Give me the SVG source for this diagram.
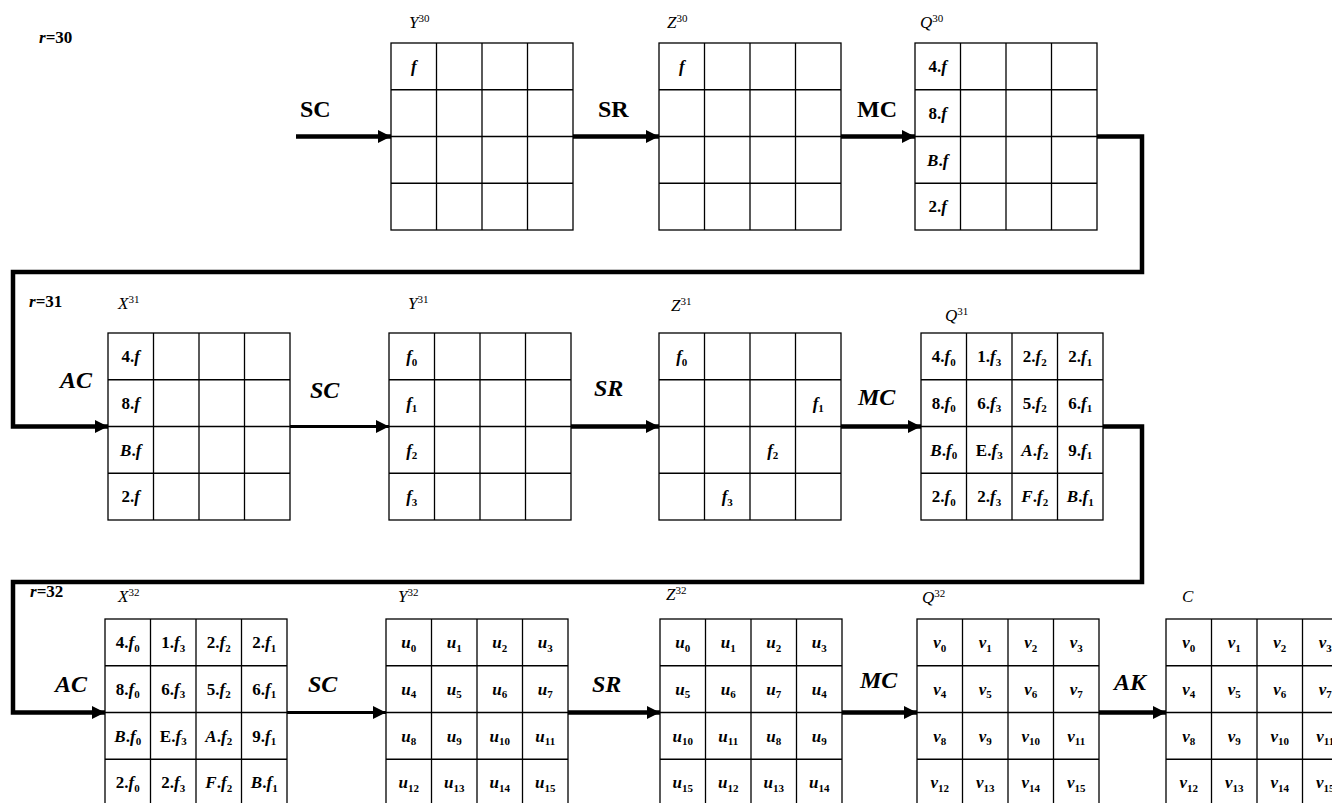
<svg xmlns="http://www.w3.org/2000/svg" width="1332" height="803" viewBox="0 0 1332 803">
<defs>
<style>
.gr rect,.gr line{fill:none;stroke:#000;stroke-width:1.3}
.c{font-family:"Liberation Serif",serif;font-size:17px;font-weight:bold;text-anchor:middle;fill:#000}
.i{font-style:italic}
.s{font-size:11px}
.lb{font-family:"Liberation Serif",serif;font-size:24px;font-weight:bold;fill:#000}
.nm{font-family:"Liberation Serif",serif;font-size:17px;font-style:italic;fill:#000}
.sup{font-size:11px;font-style:normal}
.rr{font-family:"Liberation Serif",serif;font-size:17px;font-weight:bold;fill:#000}
.cn{fill:none;stroke:#000;stroke-width:4.5}
.cn2{fill:none;stroke:#000;stroke-width:3}
</style>
<marker id="ah" viewBox="0 0 10 10" refX="10" refY="5" markerUnits="userSpaceOnUse" markerWidth="15" markerHeight="13" orient="auto">
<path d="M0,0 L10,5 L0,10 Z" fill="#000"/>
</marker>
<g id="grid" class="gr">
<rect x="0" y="0" width="182" height="187"/>
<line x1="45.5" y1="0" x2="45.5" y2="187"/>
<line x1="91" y1="0" x2="91" y2="187"/>
<line x1="136.5" y1="0" x2="136.5" y2="187"/>
<line x1="0" y1="46.75" x2="182" y2="46.75"/>
<line x1="0" y1="93.5" x2="182" y2="93.5"/>
<line x1="0" y1="140.25" x2="182" y2="140.25"/>
</g>
</defs>
<rect width="1332" height="803" fill="#fff"/>

<g id="labels">
<text class="rr" x="39" y="43"><tspan class="i">r</tspan>=30</text>
<text class="rr" x="29" y="307"><tspan class="i">r</tspan>=31</text>
<text class="rr" x="30" y="597"><tspan class="i">r</tspan>=32</text>
<text class="lb" x="300" y="117">SC</text>
<text class="lb" x="598" y="117">SR</text>
<text class="lb" x="857" y="117">MC</text>
<text class="lb i" x="60" y="388">AC</text>
<text class="lb i" x="310" y="398">SC</text>
<text class="lb i" x="594" y="396">SR</text>
<text class="lb i" x="858" y="405">MC</text>
<text class="lb i" x="55" y="692">AC</text>
<text class="lb i" x="308" y="692">SC</text>
<text class="lb i" x="592" y="692">SR</text>
<text class="lb i" x="860" y="688">MC</text>
<text class="lb i" x="1114" y="690">AK</text>
</g>

<g id="connectors">
<line class="cn" x1="296" y1="136.5" x2="391" y2="136.5" marker-end="url(#ah)"/>
<line class="cn" x1="573" y1="136.5" x2="659" y2="136.5" marker-end="url(#ah)"/>
<line class="cn" x1="841" y1="136.5" x2="915" y2="136.5" marker-end="url(#ah)"/>
<polyline class="cn" points="1097,136.5 1142,136.5 1142,272 13,272 13,426.5 108,426.5" marker-end="url(#ah)"/>
<line class="cn2" x1="290" y1="426.5" x2="389" y2="426.5" marker-end="url(#ah)"/>
<line class="cn" x1="571" y1="426.5" x2="659" y2="426.5" marker-end="url(#ah)"/>
<line class="cn" x1="841" y1="426.5" x2="921" y2="426.5" marker-end="url(#ah)"/>
<polyline class="cn" points="1103,426.5 1142,426.5 1142,582 13,582 13,712.5 105,712.5" marker-end="url(#ah)"/>
<line class="cn2" x1="287" y1="712.5" x2="386" y2="712.5" marker-end="url(#ah)"/>
<line class="cn" x1="568" y1="712.5" x2="660" y2="712.5" marker-end="url(#ah)"/>
<line class="cn" x1="842" y1="712.5" x2="917" y2="712.5" marker-end="url(#ah)"/>
<line class="cn" x1="1099" y1="712.5" x2="1166" y2="712.5" marker-end="url(#ah)"/>
</g>

<g id="Y30">
<text class="nm" x="409" y="28">Y<tspan class="sup" dy="-6">30</tspan></text>
<g transform="translate(391,43)"><use href="#grid"/>
<text class="c" x="22.75" y="29"><tspan class="i">f</tspan></text>
</g></g>

<g id="Z30">
<text class="nm" x="667" y="28">Z<tspan class="sup" dy="-6">30</tspan></text>
<g transform="translate(659,43)"><use href="#grid"/>
<text class="c" x="22.75" y="29"><tspan class="i">f</tspan></text>
</g></g>

<g id="Q30">
<text class="nm" x="920" y="28">Q<tspan class="sup" dy="-6">30</tspan></text>
<g transform="translate(915,43)"><use href="#grid"/>
<text class="c" x="22.75" y="29">4.<tspan class="i">f</tspan></text>
<text class="c" x="22.75" y="75.5">8.<tspan class="i">f</tspan></text>
<text class="c" x="22.75" y="122.5"><tspan class="i">B</tspan>.<tspan class="i">f</tspan></text>
<text class="c" x="22.75" y="169">2.<tspan class="i">f</tspan></text>
</g></g>

<g id="X31">
<text class="nm" x="118" y="309">X<tspan class="sup" dy="-6">31</tspan></text>
<g transform="translate(108,333)"><use href="#grid"/>
<text class="c" x="22.75" y="29">4.<tspan class="i">f</tspan></text>
<text class="c" x="22.75" y="75.5">8.<tspan class="i">f</tspan></text>
<text class="c" x="22.75" y="122.5"><tspan class="i">B</tspan>.<tspan class="i">f</tspan></text>
<text class="c" x="22.75" y="169">2.<tspan class="i">f</tspan></text>
</g></g>

<g id="Y31">
<text class="nm" x="408" y="309">Y<tspan class="sup" dy="-6">31</tspan></text>
<g transform="translate(389,333)"><use href="#grid"/>
<text class="c" x="22.75" y="29"><tspan class="i">f</tspan><tspan class="s" dy="3.5">0</tspan></text>
<text class="c" x="22.75" y="75.5"><tspan class="i">f</tspan><tspan class="s" dy="3.5">1</tspan></text>
<text class="c" x="22.75" y="122.5"><tspan class="i">f</tspan><tspan class="s" dy="3.5">2</tspan></text>
<text class="c" x="22.75" y="169"><tspan class="i">f</tspan><tspan class="s" dy="3.5">3</tspan></text>
</g></g>

<g id="Z31">
<text class="nm" x="671" y="311">Z<tspan class="sup" dy="-6">31</tspan></text>
<g transform="translate(659,333)"><use href="#grid"/>
<text class="c" x="22.75" y="29"><tspan class="i">f</tspan><tspan class="s" dy="3.5">0</tspan></text>
<text class="c" x="159.25" y="75.5"><tspan class="i">f</tspan><tspan class="s" dy="3.5">1</tspan></text>
<text class="c" x="113.75" y="122.5"><tspan class="i">f</tspan><tspan class="s" dy="3.5">2</tspan></text>
<text class="c" x="68.25" y="169"><tspan class="i">f</tspan><tspan class="s" dy="3.5">3</tspan></text>
</g></g>

<g id="Q31">
<text class="nm" x="945" y="321">Q<tspan class="sup" dy="-6">31</tspan></text>
<g transform="translate(921,333)"><use href="#grid"/>
<text class="c" x="22.75" y="29">4.<tspan class="i">f</tspan><tspan class="s" dy="3.5">0</tspan></text>
<text class="c" x="68.25" y="29">1.<tspan class="i">f</tspan><tspan class="s" dy="3.5">3</tspan></text>
<text class="c" x="113.75" y="29">2.<tspan class="i">f</tspan><tspan class="s" dy="3.5">2</tspan></text>
<text class="c" x="159.25" y="29">2.<tspan class="i">f</tspan><tspan class="s" dy="3.5">1</tspan></text>
<text class="c" x="22.75" y="75.5">8.<tspan class="i">f</tspan><tspan class="s" dy="3.5">0</tspan></text>
<text class="c" x="68.25" y="75.5">6.<tspan class="i">f</tspan><tspan class="s" dy="3.5">3</tspan></text>
<text class="c" x="113.75" y="75.5">5.<tspan class="i">f</tspan><tspan class="s" dy="3.5">2</tspan></text>
<text class="c" x="159.25" y="75.5">6.<tspan class="i">f</tspan><tspan class="s" dy="3.5">1</tspan></text>
<text class="c" x="22.75" y="122.5"><tspan class="i">B</tspan>.<tspan class="i">f</tspan><tspan class="s" dy="3.5">0</tspan></text>
<text class="c" x="68.25" y="122.5">E.<tspan class="i">f</tspan><tspan class="s" dy="3.5">3</tspan></text>
<text class="c" x="113.75" y="122.5"><tspan class="i">A</tspan>.<tspan class="i">f</tspan><tspan class="s" dy="3.5">2</tspan></text>
<text class="c" x="159.25" y="122.5">9.<tspan class="i">f</tspan><tspan class="s" dy="3.5">1</tspan></text>
<text class="c" x="22.75" y="169">2.<tspan class="i">f</tspan><tspan class="s" dy="3.5">0</tspan></text>
<text class="c" x="68.25" y="169">2.<tspan class="i">f</tspan><tspan class="s" dy="3.5">3</tspan></text>
<text class="c" x="113.75" y="169"><tspan class="i">F</tspan>.<tspan class="i">f</tspan><tspan class="s" dy="3.5">2</tspan></text>
<text class="c" x="159.25" y="169"><tspan class="i">B</tspan>.<tspan class="i">f</tspan><tspan class="s" dy="3.5">1</tspan></text>
</g></g>

<g id="X32">
<text class="nm" x="118" y="602">X<tspan class="sup" dy="-6">32</tspan></text>
<g transform="translate(105,619)"><use href="#grid"/>
<text class="c" x="22.75" y="29">4.<tspan class="i">f</tspan><tspan class="s" dy="3.5">0</tspan></text>
<text class="c" x="68.25" y="29">1.<tspan class="i">f</tspan><tspan class="s" dy="3.5">3</tspan></text>
<text class="c" x="113.75" y="29">2.<tspan class="i">f</tspan><tspan class="s" dy="3.5">2</tspan></text>
<text class="c" x="159.25" y="29">2.<tspan class="i">f</tspan><tspan class="s" dy="3.5">1</tspan></text>
<text class="c" x="22.75" y="75.5">8.<tspan class="i">f</tspan><tspan class="s" dy="3.5">0</tspan></text>
<text class="c" x="68.25" y="75.5">6.<tspan class="i">f</tspan><tspan class="s" dy="3.5">3</tspan></text>
<text class="c" x="113.75" y="75.5">5.<tspan class="i">f</tspan><tspan class="s" dy="3.5">2</tspan></text>
<text class="c" x="159.25" y="75.5">6.<tspan class="i">f</tspan><tspan class="s" dy="3.5">1</tspan></text>
<text class="c" x="22.75" y="122.5"><tspan class="i">B</tspan>.<tspan class="i">f</tspan><tspan class="s" dy="3.5">0</tspan></text>
<text class="c" x="68.25" y="122.5">E.<tspan class="i">f</tspan><tspan class="s" dy="3.5">3</tspan></text>
<text class="c" x="113.75" y="122.5"><tspan class="i">A</tspan>.<tspan class="i">f</tspan><tspan class="s" dy="3.5">2</tspan></text>
<text class="c" x="159.25" y="122.5">9.<tspan class="i">f</tspan><tspan class="s" dy="3.5">1</tspan></text>
<text class="c" x="22.75" y="169">2.<tspan class="i">f</tspan><tspan class="s" dy="3.5">0</tspan></text>
<text class="c" x="68.25" y="169">2.<tspan class="i">f</tspan><tspan class="s" dy="3.5">3</tspan></text>
<text class="c" x="113.75" y="169"><tspan class="i">F</tspan>.<tspan class="i">f</tspan><tspan class="s" dy="3.5">2</tspan></text>
<text class="c" x="159.25" y="169"><tspan class="i">B</tspan>.<tspan class="i">f</tspan><tspan class="s" dy="3.5">1</tspan></text>
</g></g>

<g id="Y32">
<text class="nm" x="398" y="602">Y<tspan class="sup" dy="-6">32</tspan></text>
<g transform="translate(386,619)"><use href="#grid"/>
<text class="c" x="22.75" y="29"><tspan class="i">u</tspan><tspan class="s" dy="3.5">0</tspan></text>
<text class="c" x="68.25" y="29"><tspan class="i">u</tspan><tspan class="s" dy="3.5">1</tspan></text>
<text class="c" x="113.75" y="29"><tspan class="i">u</tspan><tspan class="s" dy="3.5">2</tspan></text>
<text class="c" x="159.25" y="29"><tspan class="i">u</tspan><tspan class="s" dy="3.5">3</tspan></text>
<text class="c" x="22.75" y="75.5"><tspan class="i">u</tspan><tspan class="s" dy="3.5">4</tspan></text>
<text class="c" x="68.25" y="75.5"><tspan class="i">u</tspan><tspan class="s" dy="3.5">5</tspan></text>
<text class="c" x="113.75" y="75.5"><tspan class="i">u</tspan><tspan class="s" dy="3.5">6</tspan></text>
<text class="c" x="159.25" y="75.5"><tspan class="i">u</tspan><tspan class="s" dy="3.5">7</tspan></text>
<text class="c" x="22.75" y="122.5"><tspan class="i">u</tspan><tspan class="s" dy="3.5">8</tspan></text>
<text class="c" x="68.25" y="122.5"><tspan class="i">u</tspan><tspan class="s" dy="3.5">9</tspan></text>
<text class="c" x="113.75" y="122.5"><tspan class="i">u</tspan><tspan class="s" dy="3.5">10</tspan></text>
<text class="c" x="159.25" y="122.5"><tspan class="i">u</tspan><tspan class="s" dy="3.5">11</tspan></text>
<text class="c" x="22.75" y="169"><tspan class="i">u</tspan><tspan class="s" dy="3.5">12</tspan></text>
<text class="c" x="68.25" y="169"><tspan class="i">u</tspan><tspan class="s" dy="3.5">13</tspan></text>
<text class="c" x="113.75" y="169"><tspan class="i">u</tspan><tspan class="s" dy="3.5">14</tspan></text>
<text class="c" x="159.25" y="169"><tspan class="i">u</tspan><tspan class="s" dy="3.5">15</tspan></text>
</g></g>

<g id="Z32">
<text class="nm" x="666" y="600">Z<tspan class="sup" dy="-6">32</tspan></text>
<g transform="translate(660,619)"><use href="#grid"/>
<text class="c" x="22.75" y="29"><tspan class="i">u</tspan><tspan class="s" dy="3.5">0</tspan></text>
<text class="c" x="68.25" y="29"><tspan class="i">u</tspan><tspan class="s" dy="3.5">1</tspan></text>
<text class="c" x="113.75" y="29"><tspan class="i">u</tspan><tspan class="s" dy="3.5">2</tspan></text>
<text class="c" x="159.25" y="29"><tspan class="i">u</tspan><tspan class="s" dy="3.5">3</tspan></text>
<text class="c" x="22.75" y="75.5"><tspan class="i">u</tspan><tspan class="s" dy="3.5">5</tspan></text>
<text class="c" x="68.25" y="75.5"><tspan class="i">u</tspan><tspan class="s" dy="3.5">6</tspan></text>
<text class="c" x="113.75" y="75.5"><tspan class="i">u</tspan><tspan class="s" dy="3.5">7</tspan></text>
<text class="c" x="159.25" y="75.5"><tspan class="i">u</tspan><tspan class="s" dy="3.5">4</tspan></text>
<text class="c" x="22.75" y="122.5"><tspan class="i">u</tspan><tspan class="s" dy="3.5">10</tspan></text>
<text class="c" x="68.25" y="122.5"><tspan class="i">u</tspan><tspan class="s" dy="3.5">11</tspan></text>
<text class="c" x="113.75" y="122.5"><tspan class="i">u</tspan><tspan class="s" dy="3.5">8</tspan></text>
<text class="c" x="159.25" y="122.5"><tspan class="i">u</tspan><tspan class="s" dy="3.5">9</tspan></text>
<text class="c" x="22.75" y="169"><tspan class="i">u</tspan><tspan class="s" dy="3.5">15</tspan></text>
<text class="c" x="68.25" y="169"><tspan class="i">u</tspan><tspan class="s" dy="3.5">12</tspan></text>
<text class="c" x="113.75" y="169"><tspan class="i">u</tspan><tspan class="s" dy="3.5">13</tspan></text>
<text class="c" x="159.25" y="169"><tspan class="i">u</tspan><tspan class="s" dy="3.5">14</tspan></text>
</g></g>

<g id="Q32">
<text class="nm" x="922" y="603">Q<tspan class="sup" dy="-6">32</tspan></text>
<g transform="translate(917,619)"><use href="#grid"/>
<text class="c" x="22.75" y="29"><tspan class="i">v</tspan><tspan class="s" dy="3.5">0</tspan></text>
<text class="c" x="68.25" y="29"><tspan class="i">v</tspan><tspan class="s" dy="3.5">1</tspan></text>
<text class="c" x="113.75" y="29"><tspan class="i">v</tspan><tspan class="s" dy="3.5">2</tspan></text>
<text class="c" x="159.25" y="29"><tspan class="i">v</tspan><tspan class="s" dy="3.5">3</tspan></text>
<text class="c" x="22.75" y="75.5"><tspan class="i">v</tspan><tspan class="s" dy="3.5">4</tspan></text>
<text class="c" x="68.25" y="75.5"><tspan class="i">v</tspan><tspan class="s" dy="3.5">5</tspan></text>
<text class="c" x="113.75" y="75.5"><tspan class="i">v</tspan><tspan class="s" dy="3.5">6</tspan></text>
<text class="c" x="159.25" y="75.5"><tspan class="i">v</tspan><tspan class="s" dy="3.5">7</tspan></text>
<text class="c" x="22.75" y="122.5"><tspan class="i">v</tspan><tspan class="s" dy="3.5">8</tspan></text>
<text class="c" x="68.25" y="122.5"><tspan class="i">v</tspan><tspan class="s" dy="3.5">9</tspan></text>
<text class="c" x="113.75" y="122.5"><tspan class="i">v</tspan><tspan class="s" dy="3.5">10</tspan></text>
<text class="c" x="159.25" y="122.5"><tspan class="i">v</tspan><tspan class="s" dy="3.5">11</tspan></text>
<text class="c" x="22.75" y="169"><tspan class="i">v</tspan><tspan class="s" dy="3.5">12</tspan></text>
<text class="c" x="68.25" y="169"><tspan class="i">v</tspan><tspan class="s" dy="3.5">13</tspan></text>
<text class="c" x="113.75" y="169"><tspan class="i">v</tspan><tspan class="s" dy="3.5">14</tspan></text>
<text class="c" x="159.25" y="169"><tspan class="i">v</tspan><tspan class="s" dy="3.5">15</tspan></text>
</g></g>

<g id="C">
<text class="nm" x="1182" y="602">C</text>
<g transform="translate(1166,619)"><use href="#grid"/>
<text class="c" x="22.75" y="29"><tspan class="i">v</tspan><tspan class="s" dy="3.5">0</tspan></text>
<text class="c" x="68.25" y="29"><tspan class="i">v</tspan><tspan class="s" dy="3.5">1</tspan></text>
<text class="c" x="113.75" y="29"><tspan class="i">v</tspan><tspan class="s" dy="3.5">2</tspan></text>
<text class="c" x="159.25" y="29"><tspan class="i">v</tspan><tspan class="s" dy="3.5">3</tspan></text>
<text class="c" x="22.75" y="75.5"><tspan class="i">v</tspan><tspan class="s" dy="3.5">4</tspan></text>
<text class="c" x="68.25" y="75.5"><tspan class="i">v</tspan><tspan class="s" dy="3.5">5</tspan></text>
<text class="c" x="113.75" y="75.5"><tspan class="i">v</tspan><tspan class="s" dy="3.5">6</tspan></text>
<text class="c" x="159.25" y="75.5"><tspan class="i">v</tspan><tspan class="s" dy="3.5">7</tspan></text>
<text class="c" x="22.75" y="122.5"><tspan class="i">v</tspan><tspan class="s" dy="3.5">8</tspan></text>
<text class="c" x="68.25" y="122.5"><tspan class="i">v</tspan><tspan class="s" dy="3.5">9</tspan></text>
<text class="c" x="113.75" y="122.5"><tspan class="i">v</tspan><tspan class="s" dy="3.5">10</tspan></text>
<text class="c" x="159.25" y="122.5"><tspan class="i">v</tspan><tspan class="s" dy="3.5">11</tspan></text>
<text class="c" x="22.75" y="169"><tspan class="i">v</tspan><tspan class="s" dy="3.5">12</tspan></text>
<text class="c" x="68.25" y="169"><tspan class="i">v</tspan><tspan class="s" dy="3.5">13</tspan></text>
<text class="c" x="113.75" y="169"><tspan class="i">v</tspan><tspan class="s" dy="3.5">14</tspan></text>
<text class="c" x="159.25" y="169"><tspan class="i">v</tspan><tspan class="s" dy="3.5">15</tspan></text>
</g></g>
</svg>
